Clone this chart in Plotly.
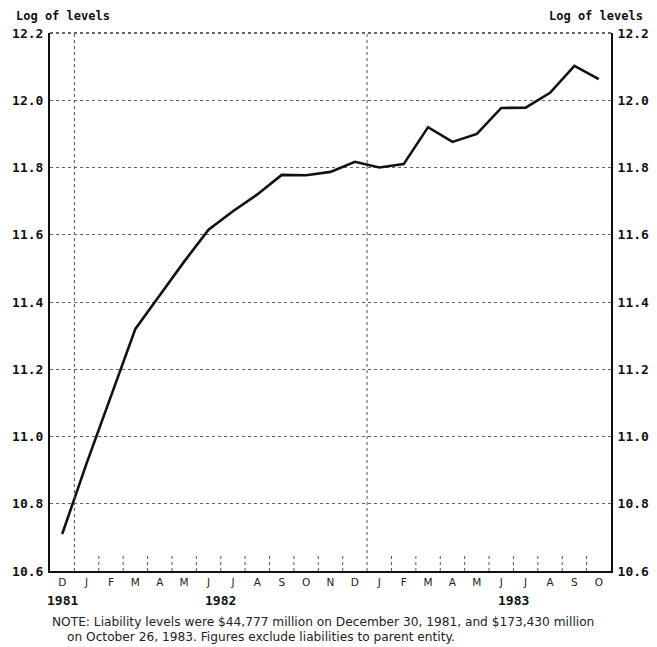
import plotly.graph_objects as go

# Data: log of liability levels, monthly Dec 1981 - Oct 1983
months = ["D", "J", "F", "M", "A", "M", "J", "J", "A", "S", "O", "N",
          "D", "J", "F", "M", "A", "M", "J", "J", "A", "S", "O"]
log_levels = [10.71, 10.92, 11.12, 11.32, 11.42, 11.52, 11.615, 11.67, 11.72,
              11.778, 11.777, 11.787, 11.817, 11.80, 11.81, 11.92, 11.876,
              11.90, 11.977, 11.978, 12.022, 12.102, 12.063]
y_ticks = [10.6, 10.8, 11.0, 11.2, 11.4, 11.6, 11.8, 12.0, 12.2]
y_tick_text = ["10.6", "10.8", "11.0", "11.2", "11.4", "11.6", "11.8", "12.0", "12.2"]
years = ["1981", "1982", "1983"]
year_pos = [0, 6.5, 18.5]
year_boundaries = [0.5, 12.5]
note_lines = [
    "NOTE: Liability levels were $44,777 million on December 30, 1981, and $173,430 million",
    "on October 26, 1983. Figures exclude liabilities to parent entity.",
]

x_idx = list(range(len(months)))
YMIN, YMAX = 10.6, 12.2

fig = go.Figure()
fig.add_trace(go.Scatter(x=x_idx, y=log_levels, mode="lines",
                         line=dict(color="#111111", width=2.6),
                         hoverinfo="skip", showlegend=False))
fig.add_trace(go.Scatter(x=x_idx, y=log_levels, mode="lines", yaxis="y2",
                         line=dict(color="rgba(0,0,0,0)", width=0),
                         hoverinfo="skip", showlegend=False))

shapes = []
for b in year_boundaries:
    shapes.append(dict(type="line", xref="x", yref="paper", x0=b, x1=b, y0=0, y1=1,
                       line=dict(color="#555555", width=1, dash="dot")))
for k in range(len(months) - 1):
    b = k + 0.5
    if b in year_boundaries:
        continue
    shapes.append(dict(type="line", xref="x", yref="paper", x0=b, x1=b, y0=0, y1=0.028,
                       line=dict(color="#555555", width=1, dash="dot")))
shapes.append(dict(type="line", xref="paper", yref="paper", x0=0, x1=1, y0=1, y1=1,
                   line=dict(color="#333333", width=1.5, dash="dot")))

annotations = []
mono = "DejaVu Sans Mono"
annotations.append(dict(text="<b>Log of levels</b>", xref="paper", yref="paper",
                        x=-0.064, y=1.031, xanchor="left", yanchor="middle",
                        showarrow=False, font=dict(family=mono, size=12, color="#111")))
annotations.append(dict(text="<b>Log of levels</b>", xref="paper", yref="paper",
                        x=1.061, y=1.031, xanchor="right", yanchor="middle",
                        showarrow=False, font=dict(family=mono, size=12, color="#111")))
for yr, p in zip(years, year_pos):
    annotations.append(dict(text="<b>" + yr + "</b>", xref="x", yref="paper",
                            x=p, y=-0.054, xanchor="center", yanchor="middle",
                            showarrow=False, font=dict(family=mono, size=13, color="#111")))
annotations.append(dict(text=note_lines[0], xref="paper", yref="paper",
                        x=0.0, y=-0.095, xanchor="left", yanchor="middle",
                        showarrow=False, font=dict(family="DejaVu Sans", size=12.2, color="#222")))
annotations.append(dict(text=note_lines[1], xref="paper", yref="paper",
                        x=0.027, y=-0.123, xanchor="left", yanchor="middle",
                        showarrow=False, font=dict(family="DejaVu Sans", size=12.2, color="#222")))

fig.update_layout(
    width=649, height=639,
    margin=dict(l=42, r=46, t=25, b=76, autoexpand=False),
    paper_bgcolor="white", plot_bgcolor="white",
    showlegend=False,
    shapes=shapes, annotations=annotations,
    xaxis=dict(range=[-0.5, len(months) - 0.5], tickmode="array", tickvals=x_idx,
               ticktext=months, showgrid=False, zeroline=False, automargin=False,
               showline=True, linecolor="#111", linewidth=2, ticks="",
               tickfont=dict(family="DejaVu Sans", size=10.5, color="#222"),
               fixedrange=True),
    yaxis=dict(range=[YMIN, YMAX], tickmode="array", tickvals=y_ticks,
               ticktext=["<b>" + t + "</b>" for t in y_tick_text],
               showgrid=True, gridcolor="#666666", automargin=False,
               griddash="dot", gridwidth=1, zeroline=False,
               showline=True, linecolor="#111", linewidth=2, ticks="",
               ticklabelstandoff=2,
               tickfont=dict(family=mono, size=13, color="#111"),
               fixedrange=True),
    yaxis2=dict(range=[YMIN, YMAX], overlaying="y", side="right", tickmode="array",
                tickvals=y_ticks, ticktext=["<b>" + t + "</b>" for t in y_tick_text],
                showgrid=False, zeroline=False, automargin=False,
                showline=True, linecolor="#111", linewidth=2, ticks="",
                ticklabelstandoff=2,
                tickfont=dict(family=mono, size=13, color="#111"),
                fixedrange=True),
)

fig.write_html("out.html")
